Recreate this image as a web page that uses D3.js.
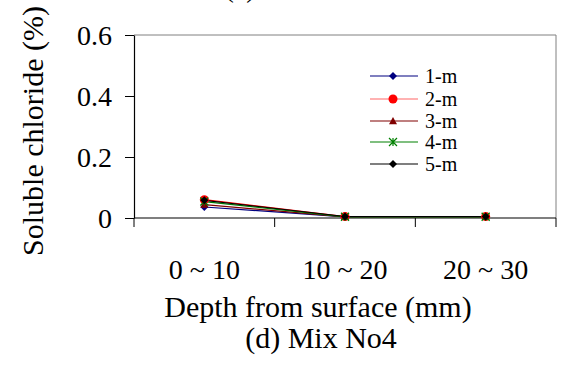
<!DOCTYPE html>
<html><head><meta charset="utf-8">
<script src="https://cdn.jsdelivr.net/npm/d3@7"></script>
<style>body{margin:0;background:#fff}svg{display:block}text{font-family:"Liberation Serif","Times New Roman",serif;fill:#000}</style>
</head><body><svg id="c" width="562" height="368"></svg>
<script>
const categories = ["0 ~ 10", "10 ~ 20", "20 ~ 30"];
const seriesNames = ["1-m", "2-m", "3-m", "4-m", "5-m"];
const s1 = [0.036, 0.004, 0.004];
const s2 = [0.060, 0.005, 0.005];
const s3 = [0.044, 0.004, 0.004];
const s4 = [0.054, 0.004, 0.004];
const s5 = [0.058, 0.005, 0.005];
const yTicks = [0, 0.2, 0.4, 0.6];
const yTickLabels = ["0", "0.2", "0.4", "0.6"];
const colors = ["#000080", "#ff0000", "#800000", "#008000", "#000000"];
const shapes = ["diamond", "circle", "triangle", "asterisk", "diamond"];
const series = [s1, s2, s3, s4, s5];

const svg = d3.select("#c");
const m = {l:134, r:556, t:35, b:218};
const x = d3.scaleBand().domain(categories).range([m.l, m.r]);
const y = d3.scaleLinear().domain([0, 0.6]).range([m.b, m.t]);

// plot box (top/right gray)
svg.append("path").attr("d", `M${m.l},${m.t}H${m.r}V${m.b}`).attr("fill","none").attr("stroke","#808080").attr("stroke-width",1);

// y axis
const ya = svg.append("g").attr("transform", `translate(${m.l},0)`)
  .call(d3.axisLeft(y).tickValues(yTicks).tickFormat((d,i)=>yTickLabels[i]).tickSize(9).tickPadding(13).tickSizeOuter(0));
ya.select(".domain").attr("stroke","#000").attr("stroke-width",1.2);
ya.selectAll(".tick line").attr("stroke","#000");
ya.selectAll("text").style("font-size","28px").attr("dy","0.34em");

// x axis
const xa = svg.append("g").attr("transform", `translate(0,${m.b})`)
  .call(d3.axisBottom(x).tickSize(0));
xa.select(".domain").remove();
xa.selectAll("text").style("font-size","28px").attr("y",61).attr("dy","0");
svg.append("line").attr("x1",m.l).attr("x2",m.r).attr("y1",m.b).attr("y2",m.b).attr("stroke","#000").attr("stroke-width",1.2);
// category boundary ticks
const bounds = [0,1,2,3].map(i => m.l + i * x.step());
svg.selectAll(".bt").data(bounds).enter().append("line")
  .attr("x1",d=>d).attr("x2",d=>d).attr("y1",m.b).attr("y2",m.b+9).attr("stroke","#000");

function marker(g, shape, color, size){
  if(shape==="diamond"){
    g.append("path").attr("d", `M0,${-size}L${size},0L0,${size}L${-size},0Z`).attr("fill",color);
  } else if(shape==="circle"){
    g.append("circle").attr("r",size).attr("fill",color);
  } else if(shape==="triangle"){
    g.append("path").attr("d", `M0,${-size}L${size},${size*0.8}L${-size},${size*0.8}Z`).attr("fill",color);
  } else if(shape==="asterisk"){
    const s=size;
    g.append("path").attr("d", `M${-s},${-s}L${s},${s}M${-s},${s}L${s},${-s}M0,${-s}V${s}`).attr("stroke",color).attr("stroke-width",1.2);
  }
}

const line = d3.line().x((d,i)=>x(categories[i]) + x.bandwidth()/2).y(d=>y(d));
series.forEach((s, k) => {
  svg.append("path").datum(s).attr("d", line).attr("fill","none").attr("stroke",colors[k]).attr("stroke-width",1.2);
});
series.forEach((s, k) => {
  s.forEach((v,i) => {
    const g = svg.append("g").attr("transform", `translate(${x(categories[i]) + x.bandwidth()/2},${y(v)})`);
    marker(g, shapes[k], colors[k], k===1?4.5:4);
  });
});

// legend
const lg = svg.append("g");
const rowsY = [76, 99, 121, 142, 164];
seriesNames.forEach((n,k) => {
  lg.append("line").attr("x1",370).attr("x2",418).attr("y1",rowsY[k]).attr("y2",rowsY[k]).attr("stroke",colors[k]).attr("stroke-width",1.2).attr("stroke-opacity", k===1?0.6:1);
  const g = lg.append("g").attr("transform", `translate(393,${rowsY[k]})`);
  marker(g, shapes[k], colors[k], k===1?4.5:4);
  lg.append("text").attr("x",425).attr("y",rowsY[k]).attr("dy","0.35em").style("font-size","20px").text(n);
});

// titles
svg.append("text").attr("transform","translate(43,131) rotate(-90)").attr("text-anchor","middle").style("font-size","30px").text("Soluble chloride (%)");
svg.append("text").attr("x",318).attr("y",317).attr("text-anchor","middle").style("font-size","30px").text("Depth from surface (mm)");
svg.append("text").attr("x",321).attr("y",348).attr("text-anchor","middle").style("font-size","30px").text("(d) Mix No4");
svg.append("text").attr("x",240).attr("y",-3).attr("text-anchor","middle").style("font-size","28px").text("(c)");
</script></body></html>
